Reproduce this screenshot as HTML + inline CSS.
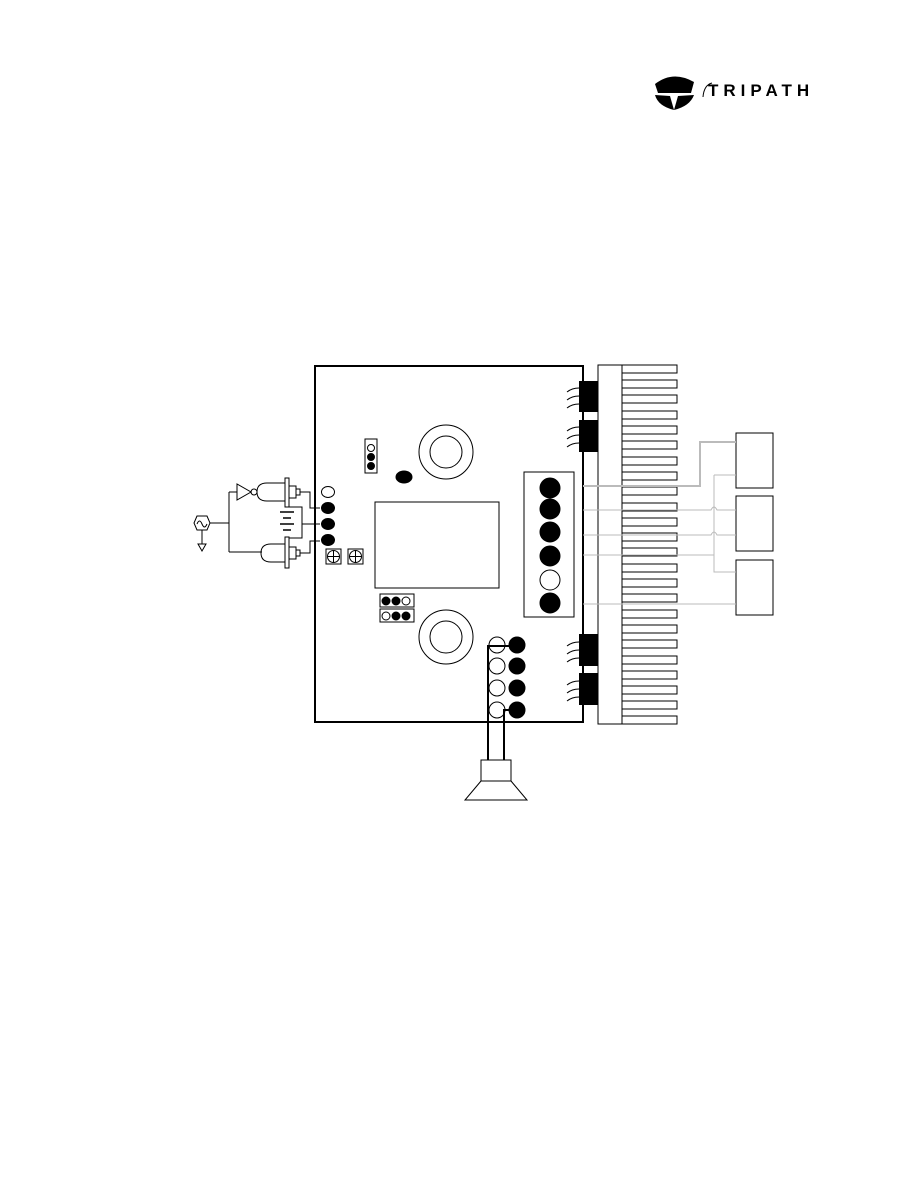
<!DOCTYPE html>
<html><head><style>body{margin:0;background:#fff}svg{display:block}</style></head><body>
<svg width="918" height="1188" viewBox="0 0 918 1188" xmlns="http://www.w3.org/2000/svg">
<rect width="918" height="1188" fill="#fff"/>
<!-- logo -->
<g fill="#000">
<path d="M655 84 Q673 70 694 82 L691 93 L658 93 Z"/>
<path d="M655 95 L670 96 L674 110 Q658 106 655 95 Z"/>
<path d="M694 95 L678 96 L674 110 Q690 106 694 95 Z"/>
</g>
<path d="M703 97 Q704 85 712 83" fill="none" stroke="#000" stroke-width="1"/>
<text x="708" y="96" font-family="Liberation Sans, sans-serif" font-weight="bold" font-size="17" letter-spacing="5">TRIPATH</text>
<g fill="none" stroke="#000" stroke-width="1">
<!-- board -->
<rect x="315" y="366" width="268" height="356" stroke-width="2"/>
<!-- heatsink -->
<rect x="598" y="365" width="24" height="359"/>
<g>
<rect x="622" y="365" width="55" height="8"/><rect x="622" y="380" width="55" height="8"/><rect x="622" y="395" width="55" height="8"/><rect x="622" y="411" width="55" height="8"/><rect x="622" y="426" width="55" height="8"/><rect x="622" y="441" width="55" height="8"/><rect x="622" y="457" width="55" height="8"/><rect x="622" y="472" width="55" height="8"/><rect x="622" y="487" width="55" height="8"/><rect x="622" y="503" width="55" height="8"/><rect x="622" y="518" width="55" height="8"/><rect x="622" y="533" width="55" height="8"/><rect x="622" y="548" width="55" height="8"/><rect x="622" y="564" width="55" height="8"/><rect x="622" y="579" width="55" height="8"/><rect x="622" y="594" width="55" height="8"/><rect x="622" y="610" width="55" height="8"/><rect x="622" y="625" width="55" height="8"/><rect x="622" y="640" width="55" height="8"/><rect x="622" y="656" width="55" height="8"/><rect x="622" y="671" width="55" height="8"/><rect x="622" y="686" width="55" height="8"/><rect x="622" y="701" width="55" height="8"/><rect x="622" y="716" width="55" height="8"/>
</g>
<circle cx="446" cy="452" r="27"/><circle cx="446" cy="452" r="16"/>
<circle cx="446" cy="637" r="27"/><circle cx="446" cy="637" r="16"/>
<rect x="375" y="502" width="124" height="86"/>
<rect x="524" y="472" width="50" height="145"/>
<rect x="365" y="439" width="12" height="34"/>
<rect x="380" y="594" width="34" height="13"/>
<rect x="380" y="609" width="34" height="13"/>
<rect x="326" y="549" width="15" height="15"/><circle cx="333.5" cy="556.5" r="6"/><path d="M327.5 556.5h12M333.5 550.5v12"/>
<rect x="348" y="549" width="15" height="15"/><circle cx="355.5" cy="556.5" r="6"/><path d="M349.5 556.5h12M355.5 550.5v12"/>
<rect x="736" y="433" width="37" height="55"/><rect x="736" y="496" width="37" height="55"/><rect x="736" y="560" width="37" height="55"/>
<rect x="481" y="760" width="30" height="21"/>
<path d="M481 781 L465 800 L527 800 L511 781"/>
</g>
<g fill="#000">
<rect x="579" y="381" width="19" height="31"/><rect x="579" y="420" width="19" height="32"/>
<rect x="579" y="634" width="19" height="32"/><rect x="579" y="673" width="19" height="32"/>
</g>
<g fill="none" stroke="#000" stroke-width="1">
<path d="M567 392q5-4 12-4M567 400q5-4 12-4M567 408q5-4 12-4"/>
<path d="M567 431q5-4 12-4M567 439q5-4 12-4M567 447q5-4 12-4"/>
<path d="M567 646q5-4 12-4M567 654q5-4 12-4M567 662q5-4 12-4"/>
<path d="M567 685q5-4 12-4M567 693q5-4 12-4M567 701q5-4 12-4"/>
</g>
<g stroke="#000" stroke-width="1">
<circle cx="550" cy="488" r="10" fill="#000"/><circle cx="550" cy="509" r="10" fill="#000"/><circle cx="550" cy="532" r="10" fill="#000"/><circle cx="550" cy="556" r="10" fill="#000"/><circle cx="550" cy="580" r="10" fill="#fff"/><circle cx="550" cy="603" r="10" fill="#000"/>
<circle cx="371" cy="448" r="3.5" fill="#fff"/><circle cx="371" cy="457" r="3.5" fill="#000"/><circle cx="371" cy="466" r="3.5" fill="#000"/>
<circle cx="386" cy="601" r="4" fill="#000"/><circle cx="396" cy="601" r="4" fill="#000"/><circle cx="406" cy="601" r="4" fill="#fff"/>
<circle cx="386" cy="616" r="4" fill="#fff"/><circle cx="396" cy="616" r="4" fill="#000"/><circle cx="406" cy="616" r="4" fill="#000"/>
<ellipse cx="404" cy="477" rx="8" ry="6" fill="#000"/>
<ellipse cx="328" cy="492" rx="6.5" ry="5.5" fill="#fff"/><ellipse cx="328" cy="508" rx="6.5" ry="5.5" fill="#000"/><ellipse cx="328" cy="524" rx="6.5" ry="5.5" fill="#000"/><ellipse cx="328" cy="540" rx="6.5" ry="5.5" fill="#000"/>
<circle cx="497" cy="645" r="8" fill="#fff"/><circle cx="517" cy="645" r="8" fill="#000"/>
<circle cx="497" cy="666" r="8" fill="#fff"/><circle cx="517" cy="666" r="8" fill="#000"/>
<circle cx="497" cy="688" r="8" fill="#fff"/><circle cx="517" cy="688" r="8" fill="#000"/>
<circle cx="497" cy="710" r="8" fill="#fff"/><circle cx="517" cy="710" r="8" fill="#000"/>
</g>
<g fill="none" stroke="#000" stroke-width="2">
<path d="M509 646H488V760M509 710H504V760"/>
</g>
<g fill="none" stroke="#bbb" stroke-width="1">
<path d="M583 486H700V442H736" stroke-width="2"/>
<path d="M583 510H711q3-6 6 0H736"/>
<path d="M583 535H711q3-6 6 0H736"/>
<path d="M583 555H714"/>
<path d="M714 475H736M714 475V572H736"/>
<path d="M583 604H736"/>
</g>
<g fill="none" stroke="#000" stroke-width="1">
<path d="M197 516l-3 7 3 7h10l3-7-3-7z"/>
<path d="M197 524q2.5-6 5 0t5 0"/>
<path d="M202 530v14M198 544h8l-4 7z"/>
<path d="M210 523H229M229 492V552M229 492H237"/>
<path d="M229 552H262"/>
<path d="M237 484v16l14-8z"/>
<circle cx="254" cy="492" r="3"/>
<path d="M257 492q0-9 10-9H285V501H267q-10 0-10-9"/>
<path d="M271 544H285V562H271q-10 0-10-9t10-9z"/>
<rect x="285" y="478" width="4" height="29"/><rect x="285" y="537" width="4" height="31"/>
<rect x="289" y="486" width="7" height="12"/><rect x="296" y="489" width="4" height="6"/>
<rect x="289" y="547" width="7" height="12"/><rect x="296" y="550" width="4" height="6"/>
<path d="M300 492H310V508H320M300 553H310V541H320M289 507H302V538H289"/>
<path d="M302 524H320"/>
<path d="M280 512h14M283 518h8M280 524h14M283 530h8" stroke-width="1.5"/>
</g>
</svg>
</body></html>
